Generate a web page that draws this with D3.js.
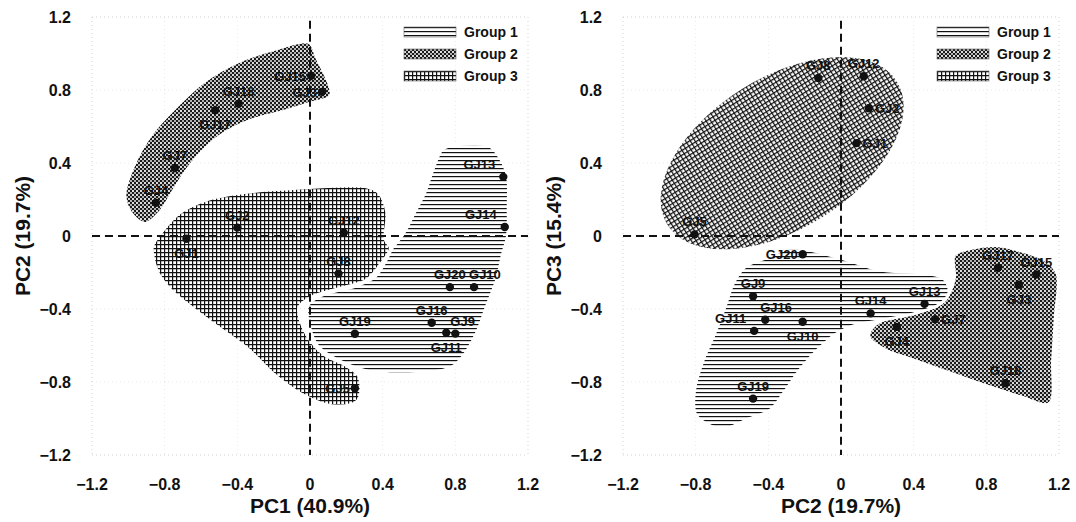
<!DOCTYPE html>
<meta charset="utf-8">
<style>
body {margin: 0; background: white;}
text {font-family: "Liberation Sans", Arial, sans-serif; font-weight: bold; fill: #111;}
.tick {font-size: 16px;}
.title {font-size: 21px;}
.lab {font-size: 13px;}
.leg {font-size: 14px;}
.grid {stroke: #c8c8c8; stroke-width: 0.8; stroke-dasharray: 1,3; fill: none;}
.zero {stroke: #111; stroke-width: 2; stroke-dasharray: 8,5;}
</style>
<body>
<script src="https://d3js.org/d3.v7.min.js"></script>
<script>
var width = 1076, height = 522

// data
var ticks = [-1.2, -0.8, -0.4, 0, 0.4, 0.8, 1.2]
var groups = ["Group 1", "Group 2", "Group 3"]
var samples = ["GJ1","GJ2","GJ3","GJ4","GJ5","GJ7","GJ8","GJ9","GJ10","GJ11",
  "GJ12","GJ13","GJ14","GJ15","GJ16","GJ17","GJ18","GJ19","GJ20"]
var sampleGroup = [3,3,2,2,3,2,3,1,1,1, 3,1,1,2,1,2,2,1,1]

// panel 1: PC1 vs PC2
var pc1 = [-0.68,-0.40,0.066,-0.848,0.247,-0.744,0.157,0.80,0.903,0.75,
  0.186,1.064,1.072,0.006,0.670,-0.522,-0.393,0.247,0.770]
var pc2 = [-0.015,0.046,0.79,0.182,-0.834,0.373,-0.206,-0.535,-0.28,-0.53,
  0.018,0.324,0.049,0.878,-0.475,0.689,0.725,-0.536,-0.28]
// panel 2: PC2 vs PC3
var pc2b = [0.086,0.154,0.979,0.307,-0.806,0.518,-0.125,-0.484,-0.211,-0.478,
  0.125,0.46,0.163,1.075,-0.417,0.864,0.906,-0.484,-0.211]
var pc3 = [0.509,0.70,-0.267,-0.498,0.009,-0.456,0.866,-0.33,-0.47,-0.52,
  0.875,-0.372,-0.424,-0.211,-0.459,-0.174,-0.807,-0.891,-0.10]

// label placement keywords (n, s, e, w, nw, ne)
var placeA = ["s","n","w","n","w","n","n","ne","ne","s","n","nw","nw","w","n","s","n","n","n"]
var placeB = ["e","e","s","s","n","e","n","n","s","nw","n","n","n","n","ne","n","n","n","w"]

// group outlines, panel 1
var hullA1 = [[0.727,0.474],[0.765,0.492],[0.983,0.495],[1.040,0.437],[1.087,0.328],[1.091,0.164],
  [1.087,0.0],[1.059,-0.103],[1.030,-0.233],[0.973,-0.382],[0.917,-0.531],[0.841,-0.661],[0.765,-0.726],
  [0.385,-0.750],[0.214,-0.707],[0.044,-0.605],[-0.004,-0.494],[-0.013,-0.382],[0.063,-0.326],
  [0.252,-0.274],[0.357,-0.224],[0.414,-0.141],[0.452,-0.066],[0.461,-0.055],[0.518,0.018],
  [0.575,0.128],[0.632,0.237],[0.670,0.346]]
var hullA2 = [[-1.019,0.219],[-0.972,0.383],[-0.867,0.565],[-0.734,0.710],[-0.583,0.847],[-0.393,0.956],
  [-0.203,1.020],[-0.004,1.060],[0.034,0.984],[0.114,0.770],[0.006,0.729],[-0.146,0.683],[-0.317,0.637],
  [-0.469,0.565],[-0.583,0.474],[-0.677,0.364],[-0.753,0.246],[-0.829,0.128],[-0.905,0.069],[-0.972,0.109]]
var hullA3 = [[-0.867,-0.055],[-0.820,0.018],[-0.715,0.128],[-0.564,0.200],[-0.374,0.237],[-0.089,0.260],
  [0.309,0.270],[0.376,0.240],[0.423,0.128],[0.414,-0.018],[0.442,-0.066],[0.385,-0.159],[0.309,-0.243],
  [0.157,-0.289],[0.006,-0.336],[-0.061,-0.391],[-0.051,-0.466],[0.006,-0.577],[0.082,-0.652],
  [0.195,-0.707],[0.271,-0.772],[0.262,-0.903],[0.120,-0.930],[-0.032,-0.875],[-0.203,-0.754],
  [-0.336,-0.624],[-0.488,-0.512],[-0.639,-0.401],[-0.772,-0.289],[-0.839,-0.196],[-0.867,-0.094]]
// group outlines, panel 2
var hullB1 = [[-0.298,-0.067],[-0.182,-0.076],[0.029,-0.131],[0.221,-0.187],[0.470,-0.206],[0.566,-0.233],
  [0.595,-0.307],[0.547,-0.372],[0.393,-0.428],[0.202,-0.465],[0.067,-0.493],[-0.029,-0.539],
  [-0.096,-0.594],[-0.163,-0.659],[-0.240,-0.752],[-0.317,-0.863],[-0.393,-0.956],[-0.509,-1.002],
  [-0.653,-1.057],[-0.797,-0.983],[-0.806,-0.844],[-0.758,-0.678],[-0.701,-0.548],[-0.643,-0.400],
  [-0.589,-0.252],[-0.528,-0.169],[-0.393,-0.113]]
var hullB2 = [[0.624,-0.104],[0.720,-0.067],[0.854,-0.052],[0.988,-0.081],[1.123,-0.131],[1.190,-0.206],
  [1.180,-0.437],[1.165,-0.678],[1.146,-0.919],[0.988,-0.881],[0.816,-0.826],[0.605,-0.752],
  [0.393,-0.678],[0.240,-0.622],[0.154,-0.552],[0.192,-0.483],[0.336,-0.428],[0.509,-0.391],
  [0.576,-0.344],[0.624,-0.233]]
// group 3 of panel 2 is an ellipse: centre, semi-axes, tilt (deg)
var ellB3 = {cx: -0.324, cy: 0.454, rx: 0.75, ry: 0.42, tilt: 32}

var svg = d3.select("body").append("svg")
  .attr("width", width).attr("height", height)

var defs = svg.append("defs")
var p1 = defs.append("pattern").attr("id", "g1").attr("patternUnits", "userSpaceOnUse")
  .attr("width", 4).attr("height", 4)
p1.append("rect").attr("width", 4).attr("height", 4).attr("fill", "white")
p1.append("path").attr("d", "M0,0.6H4").attr("stroke", "#111").attr("stroke-width", 1.2)
var p2 = defs.append("pattern").attr("id", "g2").attr("patternUnits", "userSpaceOnUse")
  .attr("width", 4).attr("height", 4)
p2.append("rect").attr("width", 4).attr("height", 4).attr("fill", "#ddd")
p2.append("path").attr("d", "M0,0h2v2h-2z M2,2h2v2h-2z").attr("fill", "#1a1a1a")
p2.append("rect").attr("x", 2.5).attr("y", 0.5).attr("width", 1).attr("height", 1).attr("fill", "#333")
var p3 = defs.append("pattern").attr("id", "g3").attr("patternUnits", "userSpaceOnUse")
  .attr("width", 4).attr("height", 4)
p3.append("rect").attr("width", 4).attr("height", 4).attr("fill", "white")
p3.append("path").attr("d", "M0,0.6H4M0.6,0V4").attr("stroke", "#111").attr("stroke-width", 1.2)

var panels = [
  {left: 92, xs: pc1, ys: pc2, place: placeA, xTitle: "PC1 (40.9%)", yTitle: "PC2 (19.7%)",
   hulls: [hullA3, hullA2, hullA1], hullGroup: [3, 2, 1], legX: 404},
  {left: 623, xs: pc2b, ys: pc3, place: placeB, xTitle: "PC2 (19.7%)", yTitle: "PC3 (15.4%)",
   hulls: [hullB2, hullB1], hullGroup: [2, 1], ell: ellB3, legX: 937}
]

var offs = {
  n: {a: "middle", dx: 0, dy: -8}, s: {a: "middle", dx: 0, dy: 19},
  e: {a: "start", dx: 6, dy: 5}, w: {a: "end", dx: -5, dy: 5},
  nw: {a: "end", dx: -8, dy: -8}, ne: {a: "start", dx: -5, dy: -8}
}

panels.forEach(function(p) {
  var x = d3.scaleLinear().domain([-1.2, 1.2]).range([p.left, p.left + 436])
  var y = d3.scaleLinear().domain([-1.2, 1.2]).range([455, 17])
  var g = svg.append("g")

  // faint dotted grid
  g.selectAll(".gx").data(ticks).enter().append("line").attr("class", "grid")
    .attr("x1", d => x(d)).attr("x2", d => x(d)).attr("y1", y(1.2)).attr("y2", y(-1.2))
    .attr("stroke-opacity", d => Math.abs(d) == 1.2 ? 1 : 0.5)
  g.selectAll(".gy").data(ticks).enter().append("line").attr("class", "grid")
    .attr("y1", d => y(d)).attr("y2", d => y(d)).attr("x1", x(-1.2)).attr("x2", x(1.2))
    .attr("stroke-opacity", d => Math.abs(d) == 1.2 ? 1 : 0.5)

  // group regions
  if (p.ell) {
    g.append("ellipse")
      .attr("transform", "translate(" + x(p.ell.cx) + "," + y(p.ell.cy) + ") rotate(" + (-p.ell.tilt) + ")")
      .attr("rx", x(p.ell.rx) - x(0)).attr("ry", y(0) - y(p.ell.ry))
      .attr("fill", "url(#g3)").attr("stroke", "white").attr("stroke-width", 2)
  }
  var line = d3.line().x(d => x(d[0])).y(d => y(d[1])).curve(d3.curveCatmullRomClosed.alpha(0.5))
  p.hulls.forEach(function(h, i) {
    g.append("path").attr("d", line(h))
      .attr("fill", "url(#g" + p.hullGroup[i] + ")")
      .attr("stroke", "white").attr("stroke-width", 3)
  })

  // zero lines
  g.append("line").attr("class", "zero").attr("x1", x(0)).attr("x2", x(0)).attr("y1", y(1.18)).attr("y2", y(-1.2))
  g.append("line").attr("class", "zero").attr("y1", y(0)).attr("y2", y(0)).attr("x1", x(-1.2)).attr("x2", x(1.2))

  // tick labels
  g.selectAll(".tx").data(ticks).enter().append("text").attr("class", "tick")
    .attr("x", d => x(d)).attr("y", 490).attr("text-anchor", "middle")
    .text(d => d3.format("")(d))
  g.selectAll(".ty").data(ticks).enter().append("text").attr("class", "tick")
    .attr("x", p.left - 21).attr("y", d => y(d) + 5.5).attr("text-anchor", "end")
    .text(d => d3.format("")(d))

  // titles
  g.append("text").attr("class", "title").attr("x", x(0)).attr("y", 513)
    .attr("text-anchor", "middle").text(p.xTitle)
  g.append("text").attr("class", "title").attr("text-anchor", "middle")
    .attr("transform", "translate(" + (p.left - 62) + "," + y(0) + ") rotate(-90)").text(p.yTitle)

  // points and labels
  var idx = d3.range(samples.length)
  g.selectAll(".pt").data(idx).enter().append("circle")
    .attr("cx", i => x(p.xs[i])).attr("cy", i => y(p.ys[i])).attr("r", 4.2).attr("fill", "#111")
  g.selectAll(".lb").data(idx).enter().append("text").attr("class", "lab")
    .attr("x", i => x(p.xs[i]) + offs[p.place[i]].dx)
    .attr("y", i => y(p.ys[i]) + offs[p.place[i]].dy)
    .attr("text-anchor", i => offs[p.place[i]].a)
    .text(i => samples[i])

  // legend
  var lg = g.selectAll(".lg").data(groups).enter().append("g")
    .attr("transform", (d, i) => "translate(" + p.legX + "," + (27 + i * 22) + ")")
  lg.append("rect").attr("width", 52).attr("height", 10)
    .attr("fill", (d, i) => "url(#g" + (i + 1) + ")").attr("stroke", "#666").attr("stroke-width", 0.6)
  lg.append("text").attr("class", "leg").attr("x", 60).attr("y", 10).text(d => d)
})
</script>
